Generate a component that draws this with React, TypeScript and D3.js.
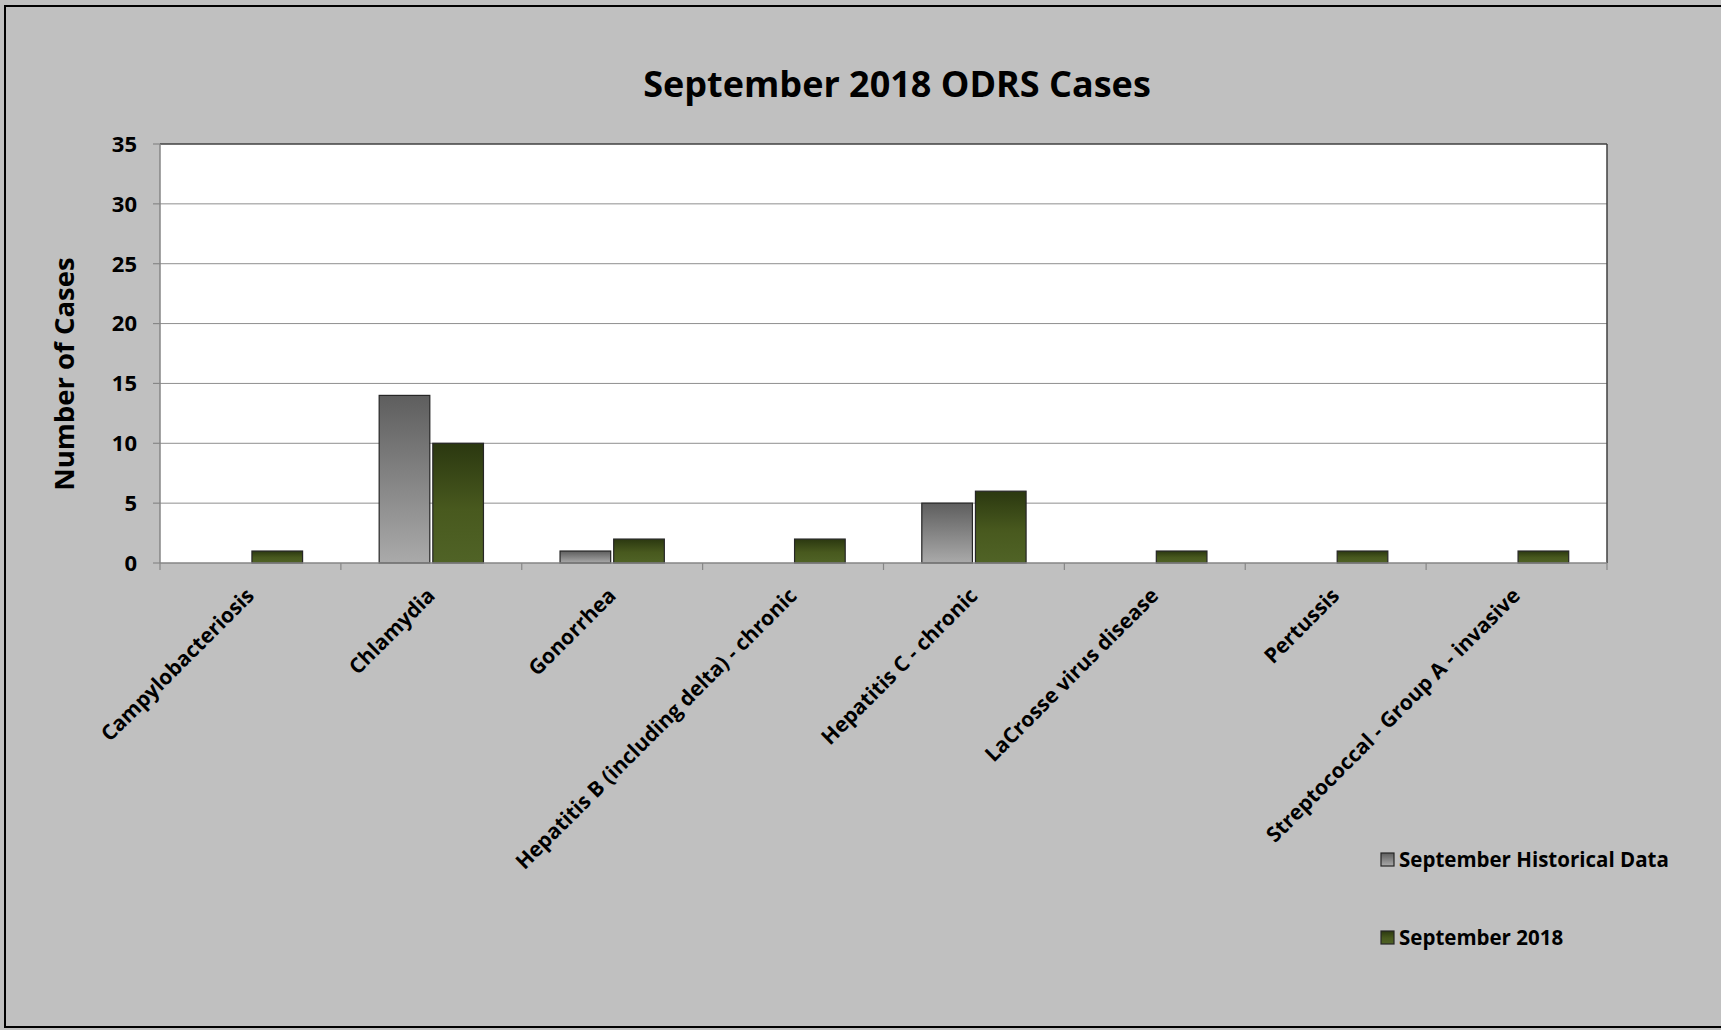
import React from 'react';
import * as d3 from 'd3';

// Chart data
const categories = [
  'Campylobacteriosis',
  'Chlamydia',
  'Gonorrhea',
  'Hepatitis B (including delta) - chronic',
  'Hepatitis C - chronic',
  'LaCrosse virus disease',
  'Pertussis',
  'Streptococcal - Group A - invasive',
];
const seriesNames = ['September Historical Data', 'September 2018'];
const historical = [0, 14, 1, 0, 5, 0, 0, 0];
const current = [1, 10, 2, 2, 6, 1, 1, 1];
const yTicks = [0, 5, 10, 15, 20, 25, 30, 35];

const W = 1721;
const H = 1030;
const plot = { left: 160, right: 1607, top: 144, bottom: 563 };
const FONT = "'Open Sans', 'Noto Sans', sans-serif";

export default function App() {
  const x = d3.scaleBand<string>()
    .domain(categories)
    .range([plot.left, plot.right]);

  const y = d3.scaleLinear()
    .domain([0, 35])
    .range([plot.bottom, plot.top]);

  const barW = x.bandwidth() * 0.28;
  const gap = 3;
  const series = [historical, current];
  const fills = ['url(#gradGray)', 'url(#gradGreen)'];

  return (
    <svg width={W} height={H} style={{ position: 'absolute', left: 0, top: 0, background: '#c0c0c0' }}>
      <defs>
        <linearGradient id="gradGray" x1="0" y1="0" x2="0" y2="1">
          <stop offset="0%" stopColor="#5e5e5e" />
          <stop offset="100%" stopColor="#aaaaaa" />
        </linearGradient>
        <linearGradient id="gradGreen" x1="0" y1="0" x2="0" y2="1">
          <stop offset="0%" stopColor="#2b3810" />
          <stop offset="55%" stopColor="#48591e" />
          <stop offset="100%" stopColor="#506326" />
        </linearGradient>
      </defs>

      {/* outer frame */}
      <rect x={0} y={0} width={W} height={H} fill="#c0c0c0" />
      <rect x={5} y={6} width={W + 20} height={1021} fill="none" stroke="#000" strokeWidth={2} />

      {/* title */}
      <text x={897} y={97} textAnchor="middle" fontFamily={FONT} fontWeight={700} fontSize={36} fill="#000">
        September 2018 ODRS Cases
      </text>

      {/* plot area */}
      <rect x={plot.left} y={plot.top} width={plot.right - plot.left} height={plot.bottom - plot.top} fill="#fff" />

      {/* gridlines */}
      {yTicks.filter(t => t > 0 && t < 35).map(t => (
        <line key={t} x1={plot.left} x2={plot.right} y1={y(t)} y2={y(t)} stroke="#8e8e8e" strokeWidth={1} />
      ))}

      {/* plot border top / right */}
      <line x1={plot.left} x2={plot.right} y1={plot.top} y2={plot.top} stroke="#404040" strokeWidth={1.5} />
      <line x1={plot.right} x2={plot.right} y1={plot.top} y2={plot.bottom} stroke="#404040" strokeWidth={1.5} />

      {/* bars */}
      {categories.map((c, i) => {
        const cx = (x(c) as number) + x.bandwidth() / 2;
        return series.map((s, k) => {
          const v = s[i];
          if (!v) return null;
          const bx = k === 0 ? cx - gap / 2 - barW : cx + gap / 2;
          return (
            <rect key={`${c}-${k}`} x={bx} y={y(v)} width={barW} height={y(0) - y(v)}
              fill={fills[k]} stroke="#262626" strokeWidth={1.2} />
          );
        });
      })}

      {/* y axis */}
      <line x1={plot.left} x2={plot.left} y1={plot.top} y2={plot.bottom} stroke="#868686" strokeWidth={1.5} />
      {yTicks.map(t => (
        <g key={t}>
          <line x1={plot.left - 7} x2={plot.left} y1={y(t)} y2={y(t)} stroke="#868686" strokeWidth={1.2} />
          <text x={137} y={y(t)} dy="0.36em" textAnchor="end" fontFamily={FONT} fontWeight={700} fontSize={22} fill="#000">
            {t}
          </text>
        </g>
      ))}

      {/* x axis */}
      <line x1={plot.left} x2={plot.right} y1={plot.bottom} y2={plot.bottom} stroke="#868686" strokeWidth={1.5} />
      {[...categories.map(c => x(c) as number), plot.right].map((tx, i) => (
        <line key={i} x1={tx} x2={tx} y1={plot.bottom} y2={plot.bottom + 7} stroke="#868686" strokeWidth={1.2} />
      ))}
      {categories.map(c => {
        const cx = (x(c) as number) + x.bandwidth() / 2;
        const ax = cx + 5;
        const ay = plot.bottom + 34;
        return (
          <text key={c} x={ax} y={ay} transform={`rotate(-45 ${ax} ${ay})`} textAnchor="end"
            fontFamily={FONT} fontWeight={700} fontSize={21} fill="#000">
            {c}
          </text>
        );
      })}

      {/* y axis title */}
      <text transform={`translate(74 ${374}) rotate(-90)`} textAnchor="middle"
        fontFamily={FONT} fontWeight={700} fontSize={27.5} fill="#000">
        Number of Cases
      </text>

      {/* legend */}
      {seriesNames.map((n, k) => {
        const ly = 853 + k * 78;
        return (
          <g key={n}>
            <rect x={1381} y={ly} width={13} height={13} fill={fills[k]} stroke="#262626" strokeWidth={1.2} />
            <text x={1399} y={ly + 14} fontFamily={FONT} fontWeight={700} fontSize={20.5} fill="#000">
              {n}
            </text>
          </g>
        );
      })}
    </svg>
  );
}
